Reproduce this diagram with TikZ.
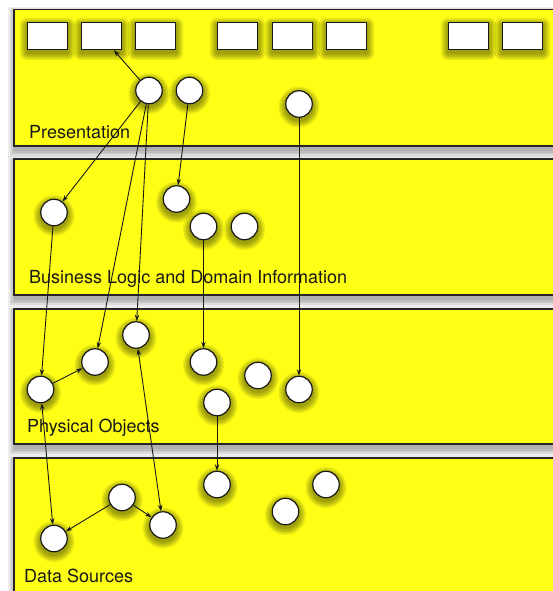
\documentclass[tikz,border=0pt]{standalone}
\usepackage{fontspec}
\setmainfont{TeX Gyre Heros}
\usetikzlibrary{arrows.meta}
\definecolor{layeryellow}{RGB}{255,255,22}
\pgfdeclarelayer{back}
\pgfdeclarelayer{shade}
\pgfsetlayers{back,shade,main}
\begin{document}
\begin{tikzpicture}[x=1pt,y=-1pt,
  layer/.style={rectangle, anchor=north west, draw=black!85, line width=1.5pt, fill=layeryellow,
    minimum width=550pt, inner sep=0pt},
  obj/.style={circle, draw=black!90, line width=1.2pt, fill=white, minimum size=26.5pt, inner sep=0pt},
  ui/.style={rectangle, draw=black!90, line width=1.3pt, fill=white, minimum width=40pt, minimum height=27pt, inner sep=0pt},
  lbl/.style={anchor=base west, font=\fontsize{18}{21}\selectfont, inner sep=0pt, text=black!90},
  link/.style={-{Stealth[length=6.5pt,width=4.5pt]}, line width=0.9pt, black!90},
  blink/.style={{Stealth[length=6.5pt,width=4.5pt]}-{Stealth[length=6.5pt,width=4.5pt]}, line width=0.9pt, black!90},
  glow/.style={fill=black, opacity=0.085}
]
\useasboundingbox (0,0) rectangle (553,591);

% layer shadows, then layers
\begin{pgfonlayer}{back}
\foreach \ya/\yb in {9/145,158/294,308/443,457/607}{
  \foreach \k in {7,5.5,4,2.5,1}{
    \fill[black, opacity=0.07] (13+2-\k,\ya+5-\k) rectangle (563+\k,\yb+5+\k);
  }
}
\node[layer, minimum height=136pt] (Lpres) at (13,9) {};
\node[layer, minimum height=136pt] (Lbus) at (13,158) {};
\node[layer, minimum height=135pt] (Lphys) at (13,308) {};
\node[layer, minimum height=150pt] (Ldata) at (13,457) {};
\end{pgfonlayer}

% labels
\node[lbl] (tpres) at (29,139) {Presentation};
\node[lbl] (tbus) at (29,283) {Business Logic and Domain Information};
\node[lbl] (tphys) at (27,432) {Physical Objects};
\node[lbl] (tdata) at (24,582) {Data Sources};

% presentation widgets
\node[ui] (b1) at (47.5,36) {};
\node[ui] (b2) at (101.5,36) {};
\node[ui] (b3) at (155.5,36) {};
\node[ui] (b4) at (237.5,36) {};
\node[ui] (b5) at (292.5,36) {};
\node[ui] (b6) at (346.5,36) {};
\node[ui] (b7) at (468.5,36) {};
\node[ui] (b8) at (522.5,36) {};

% presentation objects
\node[obj] (c1) at (149,90.5) {};
\node[obj] (c2) at (189.5,90.5) {};
\node[obj] (c3) at (299,104) {};

% business
\node[obj] (c4) at (54,212.5) {};
\node[obj] (c5) at (176.5,199) {};
\node[obj] (c6) at (203.5,226.5) {};
\node[obj] (c7) at (244.5,226.5) {};

% physical
\node[obj] (c8) at (40.5,389.5) {};
\node[obj] (c9) at (95,362) {};
\node[obj] (c10) at (136,335) {};
\node[obj] (c11) at (203.5,362) {};
\node[obj] (c12) at (258,375.5) {};
\node[obj] (c13) at (299,389.5) {};
\node[obj] (c14) at (217,402.5) {};

% data
\node[obj] (c15) at (122,497.5) {};
\node[obj] (c16) at (163,525) {};
\node[obj] (c17) at (54,538.5) {};
\node[obj] (c18) at (217,484.5) {};
\node[obj] (c19) at (285.5,511.5) {};
\node[obj] (c20) at (326,484.5) {};

% object glows
\begin{pgfonlayer}{shade}
\foreach \n in {c1,c2,c3,c4,c5,c6,c7,c8,c9,c10,c11,c12,c13,c14,c15,c16,c17,c18,c19,c20}{
  \foreach \k in {7,5.5,4,2.5,1}{
    \fill[glow] ([yshift=-3pt]\n.center) circle[radius=13.5+\k];
  }
}
\foreach \n in {b1,b2,b3,b4,b5,b6,b7,b8}{
  \foreach \k in {7,5.5,4,2.5,1}{
    \fill[glow, rounded corners=\k pt]
      ([xshift=-\k pt, yshift=-3pt-\k pt]\n.south west) rectangle
      ([xshift=\k pt, yshift=-3pt+\k pt]\n.north east);
  }
}
\end{pgfonlayer}

% connectors
\draw[link] (c1) -- (b2);
\draw[link] (c1) -- (c4);
\draw[link] (c1) -- (c9);
\draw[link] (c1) -- (c10);
\draw[link] (c2) -- (c5);
\draw[link] (c3) -- (c13);
\draw[link] (c4) -- (c8);
\draw[link] (c6) -- (c11);
\draw[link] (c8) -- (c9);
\draw[link] (c14) -- (c18);
\draw[blink] (c10) -- (c16);
\draw[blink] (c8) -- (c17);
\draw[link] (c15) -- (c17);
\draw[link] (c15) -- (c16);
\end{tikzpicture}
\end{document}
